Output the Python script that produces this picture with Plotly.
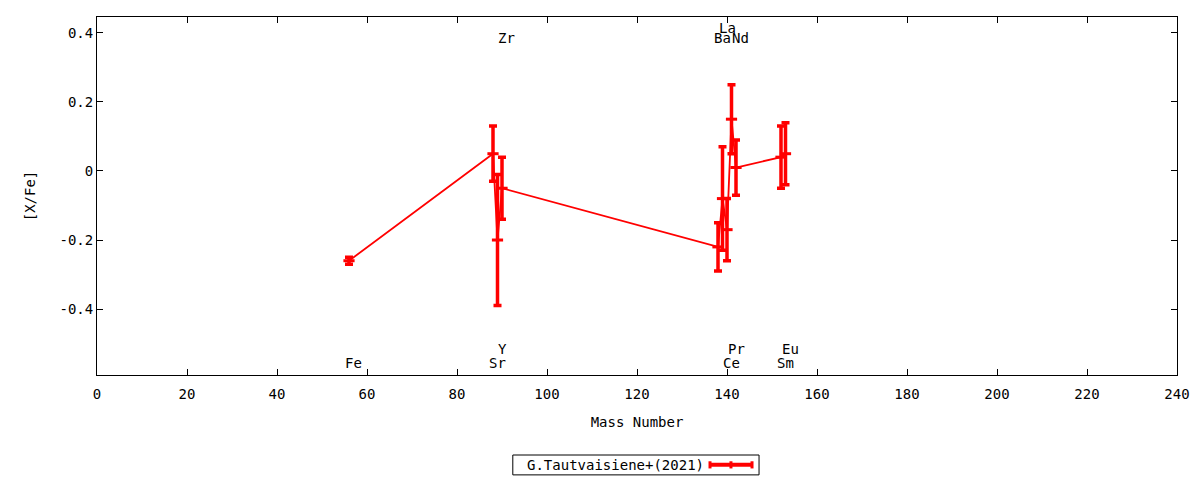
"""
[X/Fe] vs mass number for neutron-capture elements (plotly).
"""

import plotly.graph_objects as go

# data
elements = ["Fe", "Sr", "Y", "Zr", "Ba", "La", "Ce", "Pr", "Nd", "Sm", "Eu"]
mass_numbers = [56, 88, 89, 90, 138, 139, 140, 141, 142, 152, 153]
x_fe = [-0.26, 0.05, -0.20, -0.05, -0.22, -0.08, -0.17, 0.15, 0.01, 0.04, 0.05]
x_fe_err = [0.01, 0.08, 0.19, 0.09, 0.07, 0.15, 0.09, 0.10, 0.08, 0.09, 0.09]
series_name = "G.Tautvaisiene+(2021)"

x_ticks = list(range(0, 241, 20))
y_ticks = [-0.4, -0.2, 0, 0.2, 0.4]
y_tick_labels = ["-0.4", "-0.2", "0", "0.2", "0.4"]

# which row each element label sits in
label_rows = ["low", "low", "low2", "top", "top", "top2", "low", "low2", "top", "low", "low2"]
ROW_Y = {"low": -0.557, "low2": -0.516, "top": 0.386, "top2": 0.414}

FONT = "DejaVu Sans Mono"
RED = "#ff0000"
# page body has an 8px margin, so the figure is shrunk to fit the 1200x480 window
FIG_W, FIG_H = 1192, 472

fig = go.Figure()
fig.add_trace(
    go.Scatter(
        x=mass_numbers,
        y=x_fe,
        mode="lines+markers",
        name=series_name,
        line=dict(color=RED, width=1.8),
        marker=dict(symbol="line-ew", size=8, color=RED, line=dict(color=RED, width=3)),
        error_y=dict(type="data", array=x_fe_err, visible=True, color=RED, thickness=3.5, width=4),
        showlegend=False,
    )
)

for el, m, row in zip(elements, mass_numbers, label_rows):
    fig.add_annotation(
        x=m, y=ROW_Y[row], text=el, showarrow=False, xshift=4.5,
        font=dict(family=FONT, size=14, color="black"),
    )

# gnuplot-style key: text on the left, sample on the right
fig.add_shape(type="rect", xref="paper", yref="paper", x0=0.385, x1=0.613, y0=-0.279, y1=-0.2235,
              line=dict(color="black", width=1), fillcolor="white")
fig.add_annotation(xref="paper", yref="paper", x=0.48, y=-0.251, xanchor="center", yanchor="middle",
                   text=series_name, showarrow=False,
                   font=dict(family=FONT, size=14, color="black"))
fig.add_shape(type="line", xref="paper", yref="paper", x0=0.5676, x1=0.6065, y0=-0.251, y1=-0.251,
              line=dict(color=RED, width=4))
for xp in (0.5676, 0.587, 0.6065):
    fig.add_shape(type="line", xref="paper", yref="paper", x0=xp, x1=xp, y0=-0.241, y1=-0.261,
                  line=dict(color=RED, width=3))

axis_common = dict(
    showline=True, linecolor="black", linewidth=1, mirror="ticks",
    ticks="inside", ticklen=6, tickcolor="black", showgrid=False, zeroline=False,
    tickfont=dict(family=FONT, size=14, color="black"),
)
fig.update_xaxes(
    range=[0, 240], tickvals=x_ticks, ticklabelstandoff=6,
    title=dict(text="Mass Number", font=dict(family=FONT, size=14, color="black"), standoff=16),
    **axis_common,
)
fig.update_yaxes(
    range=[-0.591, 0.446], tickvals=y_ticks, ticktext=y_tick_labels, ticklabelstandoff=0,
    title=dict(text="[X/Fe]", font=dict(family=FONT, size=14, color="black"), standoff=20),
    **axis_common,
)
fig.update_layout(
    width=FIG_W, height=FIG_H,
    margin=dict(l=89, r=23, t=9, b=105),
    paper_bgcolor="white", plot_bgcolor="white",
    font=dict(family=FONT, size=14, color="black"),
)
fig.write_html("out.html")
